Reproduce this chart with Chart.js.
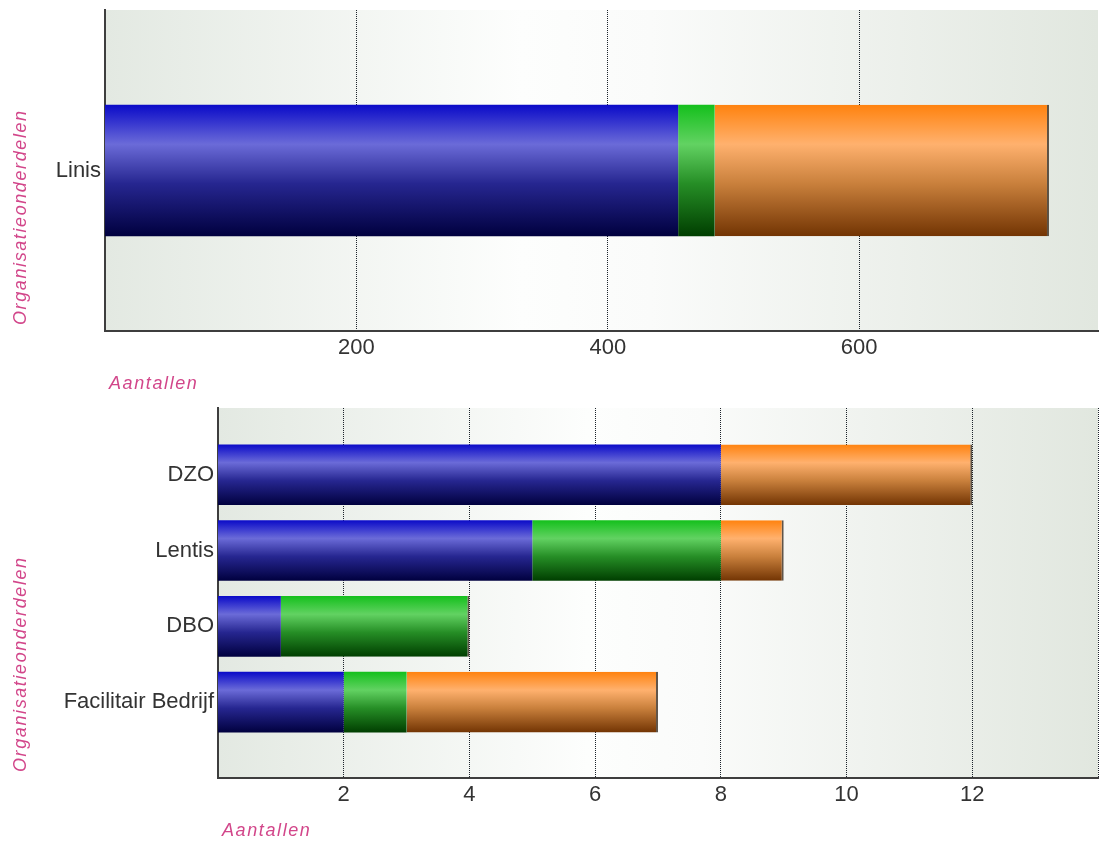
<!DOCTYPE html>
<html>
<head>
<meta charset="utf-8">
<script src="https://cdn.jsdelivr.net/npm/chart.js@4.4.1/dist/chart.umd.min.js"></script>
<style>
  html, body { margin: 0; padding: 0; background: #fff; }
  .box { position: absolute; left: 0; width: 1101px; }
  #boxTop { top: 0; height: 400px; }
  #boxBottom { top: 400px; height: 443px; }
</style>
</head>
<body>
<div class="box" id="boxTop"><canvas id="chartTop"></canvas></div>
<div class="box" id="boxBottom"><canvas id="chartBottom"></canvas></div>
<script>
// bovenste grafiek
const topCategories = ['Linis'];
const topBlue = [456];
const topGreen = [29];
const topOrange = [266];
const topTickValues = [200, 400, 600];
const topTickLabels = ['200', '400', '600'];

// onderste grafiek
const bottomCategories = ['DZO', 'Lentis', 'DBO', 'Facilitair Bedrijf'];
const bottomBlue = [8, 5, 1, 2];
const bottomGreen = [0, 3, 3, 1];
const bottomOrange = [4, 1, 0, 4];
const bottomTickValues = [2, 4, 6, 8, 10, 12, 14];
const bottomTickLabels = ['2', '4', '6', '8', '10', '12', ''];

const xTitle = 'Aantallen';
const yTitle = 'Organisatieonderdelen';

const blueStops = [[0, '#0a0ac8'], [0.3, '#6b6bd8'], [0.6, '#262690'], [1, '#00003e']];
const greenStops = [[0, '#14c01c'], [0.3, '#62d262'], [0.6, '#268e26'], [1, '#003e00']];
const orangeStops = [[0, '#ff820e'], [0.3, '#ffb16e'], [0.6, '#c9803c'], [1, '#723403']];

const tickFont = { family: '"Liberation Sans", Arial, sans-serif', size: 22 };

// verticale kleurverloop per balk
function barFill(stops) {
  return (c) => {
    const chart = c.chart;
    const ys = chart.scales.y;
    if (!ys || c.dataIndex === undefined) return stops[1][1];
    const p0 = ys.getPixelForValue(0);
    const p1 = ys.getPixelForValue(1);
    const center = ys.getPixelForValue(c.dataIndex);
    const half = Math.abs(p1 - p0) * (c.dataset.barPercentage || 0.8) / 2;
    if (!isFinite(center) || !isFinite(half) || half <= 0) return stops[1][1];
    const g = chart.ctx.createLinearGradient(0, center - half, 0, center + half);
    stops.forEach(s => g.addColorStop(s[0], s[1]));
    return g;
  };
}

// donkere rand aan het einde van de laatste balk
function endBorder(c) {
  const sets = c.chart.data.datasets;
  const i = c.dataIndex;
  if (i === undefined) return 0;
  const val = v => (typeof v === 'object' ? v.x : v);
  if (!val(sets[c.datasetIndex].data[i])) return 0;
  for (let d = c.datasetIndex + 1; d < sets.length; d++) {
    if (val(sets[d].data[i])) return 0;
  }
  return { top: 0, left: 0, bottom: 0, right: 2 };
}

const plotBackground = {
  id: 'plotBackground',
  beforeDraw(chart) {
    const { ctx, chartArea: a } = chart;
    const g = ctx.createLinearGradient(a.left, 0, a.right, 0);
    g.addColorStop(0, '#e3e9e2');
    g.addColorStop(0.42, '#fdfefd');
    g.addColorStop(0.55, '#fafbfa');
    g.addColorStop(1, '#e1e7df');
    ctx.save();
    ctx.fillStyle = g;
    ctx.fillRect(a.left, a.top, a.right - a.left, a.bottom - a.top);
    ctx.restore();
  }
};

const axisTitles = {
  id: 'axisTitles',
  afterDraw(chart) {
    const { ctx, chartArea: a } = chart;
    ctx.save();
    ctx.fillStyle = '#d2468a';
    ctx.font = 'italic 18px "Liberation Sans", Arial, sans-serif';
    ctx.letterSpacing = '1.6px';
    ctx.textBaseline = 'middle';
    ctx.textAlign = 'left';
    ctx.fillText(xTitle, a.left + 4, a.bottom + 53);
    ctx.translate(21, a.bottom - 6);
    ctx.rotate(-Math.PI / 2);
    ctx.fillText(yTitle, 0, 0);
    ctx.restore();
  }
};

function noPadding(scale) {
  scale.paddingTop = 0;
  scale.paddingBottom = 0;
  scale.paddingLeft = 0;
  scale.paddingRight = 0;
}

function makeOptions(cfg) {
  return {
    indexAxis: 'y',
    responsive: true,
    maintainAspectRatio: false,
    animation: false,
    layout: { padding: { left: 0, right: 3, top: cfg.top, bottom: 0 } },
    plugins: { legend: { display: false } },
    scales: {
      x: {
        stacked: true,
        min: 0,
        max: cfg.max,
        afterBuildTicks: (axis) => { axis.ticks = cfg.ticks.map(v => ({ value: v })); },
        afterFit: (scale) => { scale.height = cfg.xHeight; noPadding(scale); },
        ticks: {
          padding: 4,
          color: '#333',
          font: tickFont,
          callback: (v) => cfg.labels[cfg.ticks.indexOf(v)]
        },
        grid: { color: '#1c232b', lineWidth: 1, drawTicks: false },
        border: { display: true, color: '#3e3e3e', width: 2, dash: [1, 1] }
      },
      y: Object.assign({
        stacked: true,
        afterFit: (scale) => { scale.width = cfg.yWidth; noPadding(scale); },
        ticks: { padding: 4, color: '#333', font: tickFont },
        grid: { display: false, drawTicks: false },
        border: { display: true, color: '#3e3e3e', width: 2 }
      }, cfg.y)
    }
  };
}

function makeDatasets(blue, green, orange, pct, asPoints) {
  const toData = arr => asPoints ? arr.map((v, i) => ({ x: v, y: i })) : arr;
  const base = { categoryPercentage: 1, barPercentage: pct, borderColor: 'rgba(45,30,15,0.75)', borderWidth: endBorder, borderSkipped: false };
  return [
    Object.assign({ label: 'blauw', data: toData(blue), backgroundColor: barFill(blueStops) }, base),
    Object.assign({ label: 'groen', data: toData(green), backgroundColor: barFill(greenStops) }, base),
    Object.assign({ label: 'oranje', data: toData(orange), backgroundColor: barFill(orangeStops) }, base)
  ];
}

new Chart(document.getElementById('chartTop'), {
  type: 'bar',
  data: {
    labels: topCategories,
    datasets: makeDatasets(topBlue, topGreen, topOrange, 0.41, false)
  },
  options: makeOptions({
    top: 10, max: 790, ticks: topTickValues, labels: topTickLabels,
    xHeight: 69, yWidth: 105, y: { type: 'category' }
  }),
  plugins: [plotBackground, axisTitles]
});

new Chart(document.getElementById('chartBottom'), {
  type: 'bar',
  data: {
    labels: bottomCategories,
    datasets: makeDatasets(bottomBlue, bottomGreen, bottomOrange, 0.8, true)
  },
  options: makeOptions({
    top: 8, max: 14, ticks: bottomTickValues, labels: bottomTickLabels,
    xHeight: 65, yWidth: 218,
    y: {
      type: 'linear',
      reverse: true,
      offset: false,
      min: -0.88,
      max: 4,
      afterBuildTicks: (axis) => { axis.ticks = bottomCategories.map((c, i) => ({ value: i })); }
    }
  }),
  plugins: [plotBackground, axisTitles]
});

// tick labels van de onderste y-as
Chart.getChart('chartBottom').options.scales.y.ticks.callback = (v) => bottomCategories[v];
Chart.getChart('chartBottom').update();
</script>
</body>
</html>
